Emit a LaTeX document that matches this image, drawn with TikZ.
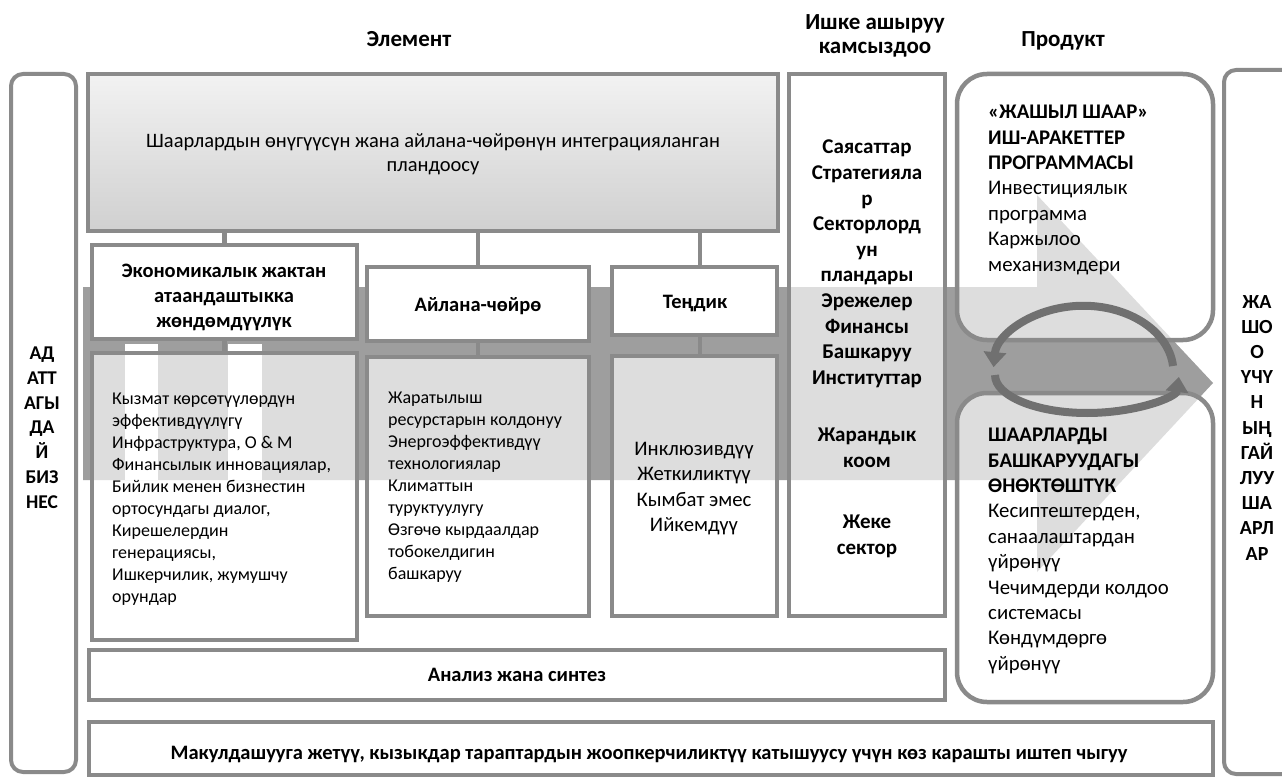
\documentclass[tikz,border=0pt]{standalone}
\usepackage{fontspec}
\setmainfont{Carlito}
\usetikzlibrary{arrows.meta,fit}
\definecolor{bord}{RGB}{138,138,138}
\definecolor{bandc}{RGB}{158,158,158}
\definecolor{cycc}{RGB}{112,112,112}
\definecolor{topA}{RGB}{242,242,242}
\definecolor{topB}{RGB}{208,208,208}
\begin{document}
\begin{tikzpicture}[x=1pt,y=-1pt,
  bx/.style={draw=bord, line width=4.5pt, inner sep=0pt},
  opaque/.style={bx, fill=white},
  glass/.style={bx, fill=white, fill opacity=0.66},
  rglass/.style={glass, rounded corners=30pt},
  side/.style={draw=bord, line width=4pt, fill=white, rounded corners=12pt, inner sep=0pt},
  conn/.style={draw=bord, line width=4.5pt},
  cyc/.style={draw=cycc, line width=8pt, -{Triangle[width=22pt,length=15pt]}},
  txt/.style={inner sep=0pt, text=black},
  hd/.style={txt, font=\bfseries\fontsize{23}{24.5}\selectfont},
  small/.style={txt, align=left, font=\fontsize{18}{22}\selectfont},
  mid/.style={txt, font=\fontsize{20.8}{25.4}\selectfont},
  midb/.style={txt, font=\bfseries\fontsize{21}{25.6}\selectfont, align=center},
  sideb/.style={txt, font=\bfseries\fontsize{19.5}{24.7}\selectfont, align=center},
  boxb/.style={txt, font=\bfseries\fontsize{20.5}{25}\selectfont}
]
\clip (0,0) rectangle (1282,778);
\fill[white] (0,0) rectangle (1282,778);

% side boxes
\node[side, fit={(11,74) (76,772)}] (L) {};
\node[side, fit={(1224,70) (1320,774)}] (R) {};

% big band arrow
\fill[bandc] (83,287) -- (1037,287) -- (1037,195) -- (1213,383) -- (1037,572) -- (1037,480) -- (83,480) -- cycle;
\fill[white] (125,344) rectangle (158,480);
\fill[white] (228,344) rectangle (262,480);

% boxes
\node[bx, top color=topA, bottom color=topB, fit={(88,74) (778,231)}] (T) {};
\node[opaque, fit={(92,245) (357,339)}] (E1) {};
\node[glass, fit={(92,353) (357,640)}] (E2) {};
\node[opaque, fit={(367,267) (589,341)}] (A1) {};
\node[glass, fit={(367,357) (589,616)}] (A2) {};
\node[opaque, fit={(612,267) (777,335)}] (Q1) {};
\node[glass, fit={(612,356) (777,616)}] (Q2) {};
\node[glass, fit={(789,74) (945,616)}] (I) {};
\node[rglass, fit={(957,74) (1213,340)}] (P1) {};
\node[rglass, fit={(957,393) (1213,702)}] (P2) {};
\node[opaque, fit={(89,650) (945,700)}] (An) {};
\node[opaque, fit={(89,722) (1213,775)}] (B) {};

% connectors
\coordinate (qc) at ([xshift=5.5pt]Q1.north);
\coordinate (qd) at ([xshift=5.5pt]Q1.south);
\draw[conn] (E1.north) -- (E1.north |- T.south);
\draw[conn] (A1.north) -- (A1.north |- T.south);
\draw[conn] (qc) -- (qc |- T.south);
\draw[conn] (E1.south) -- (E1.south |- E2.north);
\draw[conn] (A1.south) -- (A1.south |- A2.north);
\draw[conn] (qd) -- (qd |- Q2.north);

% cycle arrows
\draw[cyc] (1173,366) arc[start angle=-5, end angle=-176, x radius=90, y radius=66];
\draw[cyc] (995,375) arc[start angle=180, end angle=3, x radius=92, y radius=38];

% headers
\node[hd, anchor=base] (hElem) at (409,47) {Элемент};
\node[hd, anchor=north, align=center] (hImpl) at (875,14) {Ишке ашыруу\\камсыздоо};
\node[hd, anchor=base] (hProd) at (1063,47) {Продукт};

% texts
\node[txt, anchor=north, align=center, font=\fontsize{20.5}{24.5}\selectfont] (tT) at (433,133)
  {Шаарлардын өнүгүүсүн жана айлана-чөйрөнүн интеграцияланган\\пландоосу};
\node[boxb, anchor=north, align=center] (tE1) at (224,264)
  {Экономикалык жактан\\атаандаштыкка\\жөндөмдүүлүк};
\node[boxb, anchor=base] (tA1) at (478,311) {Айлана-чөйрө};
\node[boxb, anchor=base] (tQ1) at (695,308) {Теңдик};
\node[small, anchor=north west] (tE2) at (112,393)
  {Кызмат көрсөтүүлөрдүн\\эффективдүүлүгү\\Инфраструктура, О \& М\\Финансылык инновациялар,\\Бийлик менен бизнестин\\ортосундагы диалог,\\Кирешелердин\\генерациясы,\\Ишкерчилик, жумушчу\\орундар};
\node[small, anchor=north west] (tA2) at (388,392)
  {Жаратылыш\\ресурстарын колдонуу\\Энергоэффективдүү\\технологиялар\\Климаттын\\туруктуулугу\\Өзгөчө кырдаалдар\\тобокелдигин\\башкаруу};
\node[txt, anchor=north, align=center, font=\fontsize{20.7}{25.3}\selectfont] (tQ2) at (694,442)
  {Инклюзивдүү\\Жеткиликтүү\\Кымбат эмес\\Ийкемдүү};
\node[midb, anchor=north] (tIa) at (867,140)
  {Саясаттар\\Стратегияла\\р\\Секторлорд\\ун\\пландары\\Эрежелер\\Финансы\\Башкаруу\\Институттар};
\node[midb, anchor=north] (tIb) at (867,428) {Жарандык\\коом};
\node[midb, anchor=north] (tIc) at (867,515) {Жеке\\сектор};
\node[mid, anchor=north west, align=left] (tP1) at (988,105)
  {\textbf{«ЖАШЫЛ ШААР»}\\\textbf{ИШ-АРАКЕТТЕР}\\\textbf{ПРОГРАММАСЫ}\\Инвестициялык\\программа\\Каржылоо\\механизмдери};
\node[mid, anchor=north west, align=left] (tP2) at (988,428)
  {\textbf{ШААРЛАРДЫ}\\\textbf{БАШКАРУУДАГЫ}\\\textbf{ӨНӨКТӨШТҮК}\\Кесиптештерден,\\санаалаштардан\\үйрөнүү\\Чечимдерди колдоо\\системасы\\Көндүмдөргө\\үйрөнүү};
\node[sideb, anchor=north] (tL) at (42,347) {АД\\АТТ\\АГЫ\\ДА\\Й\\БИЗ\\НЕС};
\node[sideb, anchor=north, font=\bfseries\fontsize{20}{25.2}\selectfont] (tR) at (1257,295)
  {ЖА\\ШО\\О\\ҮЧҮ\\Н\\ЫҢ\\ГАЙ\\ЛУУ\\ША\\АРЛ\\АР};
\node[txt, anchor=base, font=\bfseries\fontsize{20.5}{23}\selectfont] (tAn) at (517,681) {Анализ жана синтез};
\node[txt, anchor=base, font=\bfseries\fontsize{20.5}{23}\selectfont] (tB) at (649,759)
  {Макулдашууга жетүү, кызыкдар тараптардын жоопкерчиликтүү катышуусу үчүн көз карашты иштеп чыгуу};
\end{tikzpicture}
\end{document}
